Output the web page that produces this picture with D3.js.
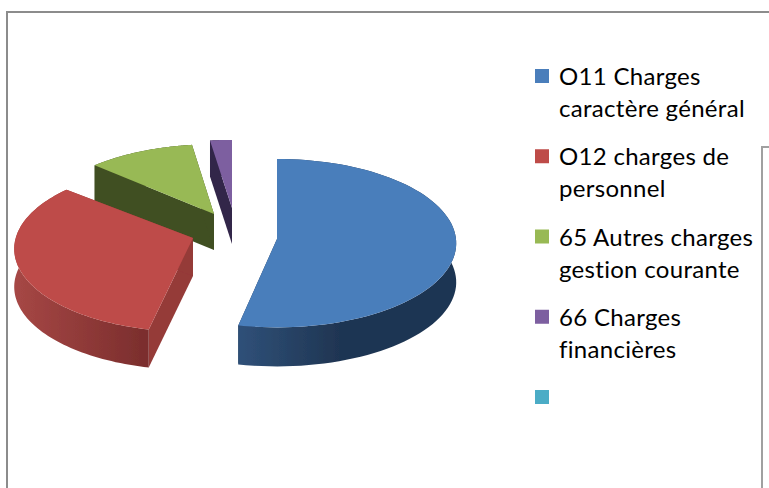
<!DOCTYPE html>
<html>
<head>
<meta charset="utf-8">
<script src="https://cdn.jsdelivr.net/npm/d3@7"></script>
<style>
  html, body { margin: 0; padding: 0; background: #fff; }
  svg { display: block; }
</style>
</head>
<body>
<div id="chart"></div>
<script>
// Share of each category
const categories = ['O11', 'O12', '65', '66', ''];
const shares = [53.3, 33.3, 11.1, 2.3, 0];
const legendLines = [
    ['O11 Charges', 'caractère général'],
    ['O12 charges de', 'personnel'],
    ['65 Autres charges', 'gestion courante'],
    ['66 Charges', 'financières'],
    []
];

const topColors = ['#4a7ebb', '#be4b48', '#98b954', '#7d5fa0', '#4bacc6'];
const wallColors = ['#1f3552', '#953a38', '#404f23', '#33264a', '#2a6a7c'];
const rimLeftColors = ['#2f5078', '#a64745', '#404f23', '#33264a', '#2a6a7c'];
const rimRightColors = ['#1f3552', '#7b2e2d', '#404f23', '#33264a', '#2a6a7c'];

// Each slice is pulled out of the pie, so each has its own apex and ellipse
const apexX = [277, 193, 214, 232];
const apexY = [239, 238, 214, 208];
const sliceCx = [277, 188, 214, 232];
const sliceCy = [239, 241, 214, 208];
const sliceRx = [179, 173, 177, 177];
const sliceRy = [84, 82, 81, 79];
const slicePerspective = [0.05, 0.095, 0.16, 0.16];
const sliceDepth = [39, 38, 36, 36];
const rimExtent = [[240, 340], [15, 145], [95, 214], [209, 232]];

const width = 769;
const height = 488;

const svg = d3.select('#chart')
    .append('svg')
    .attr('width', width)
    .attr('height', height)
    .attr('viewBox', `0 0 ${width} ${height}`);

const defs = svg.append('defs');

defs.append('filter')
    .attr('id', 'soft')
    .append('feGaussianBlur')
    .attr('stdDeviation', 0.6);

// Frames of the screenshot
const frameLine = d3.line();
svg.append('path')
    .attr('d', frameLine([[7, height], [7, 12], [width, 12]]))
    .style('fill', 'none')
    .style('stroke', '#8c8c8c')
    .style('stroke-width', 2);

svg.append('path')
    .attr('d', frameLine([[762, height], [762, 147], [width, 147]]))
    .style('fill', 'none')
    .style('stroke', '#a0a0a0')
    .style('stroke-width', 2);

// Slice angles come from the shares, clockwise from twelve o'clock
const pie = d3.pie().sort(null).value(d => d);
const arcs = pie(shares);

function project(i, theta) {
    const u = Math.sin(theta);
    const v = Math.cos(theta);
    const d = 1 + slicePerspective[i] * v;
    return [sliceCx[i] + sliceRx[i] * u / d, sliceCy[i] - sliceRy[i] * v / d];
}

function arcPoints(i, a0, a1) {
    const steps = 80;
    const angle = d3.scaleLinear().domain([0, steps]).range([a0, a1]);
    return d3.range(steps + 1).map(s => project(i, angle(s)));
}

function lowered(points, depth) {
    return points.map(p => [p[0], p[1] + depth]);
}

const polygon = d3.line().curve(d3.curveLinearClosed);
const pieGroup = svg.append('g').attr('filter', 'url(#soft)');

// Back slices first, so that the front ones cover them
arcs.slice(0, 4).reverse().forEach(slice => {
    const i = slice.index;
    const depth = sliceDepth[i];
    const apex = [apexX[i], apexY[i]];
    const edge = arcPoints(i, slice.startAngle, slice.endAngle);

    const gradientId = `rim-${i}`;
    const gradient = defs.append('linearGradient')
        .attr('id', gradientId)
        .attr('gradientUnits', 'userSpaceOnUse')
        .attr('x1', rimExtent[i][0])
        .attr('x2', rimExtent[i][1])
        .attr('y1', 0)
        .attr('y2', 0);
    gradient.append('stop').attr('offset', 0).attr('stop-color', rimLeftColors[i]);
    gradient.append('stop').attr('offset', 1).attr('stop-color', rimRightColors[i]);

    // Cut faces at both ends of the slice
    [edge[0], edge[edge.length - 1]].forEach(end => {
        pieGroup.append('path')
            .attr('d', polygon([apex, end, [end[0], end[1] + depth], [apex[0], apex[1] + depth]]))
            .style('fill', wallColors[i]);
    });

    // Outer rim
    pieGroup.append('path')
        .attr('d', polygon(edge.concat(lowered(edge, depth).reverse())))
        .style('fill', `url(#${gradientId})`);

    // Top surface
    pieGroup.append('path')
        .attr('d', polygon([apex].concat(edge)))
        .style('fill', topColors[i]);
});

// Legend
const legendY = d3.scalePoint()
    .domain(categories.map((c, i) => i))
    .range([69, 390]);

const legend = svg.append('g');

categories.forEach((c, i) => {
    legend.append('rect')
        .attr('x', 535)
        .attr('y', legendY(i))
        .attr('width', 14)
        .attr('height', 14)
        .style('fill', topColors[i]);

    legendLines[i].forEach((line, j) => {
        legend.append('text')
            .attr('x', 559)
            .attr('y', legendY(i) + 16 + j * 32)
            .style('font-family', 'Lato, sans-serif')
            .style('font-size', '24px')
            .style('letter-spacing', '0.3px')
            .style('fill', '#000')
            .text(line);
    });
});
</script>
</body>
</html>
